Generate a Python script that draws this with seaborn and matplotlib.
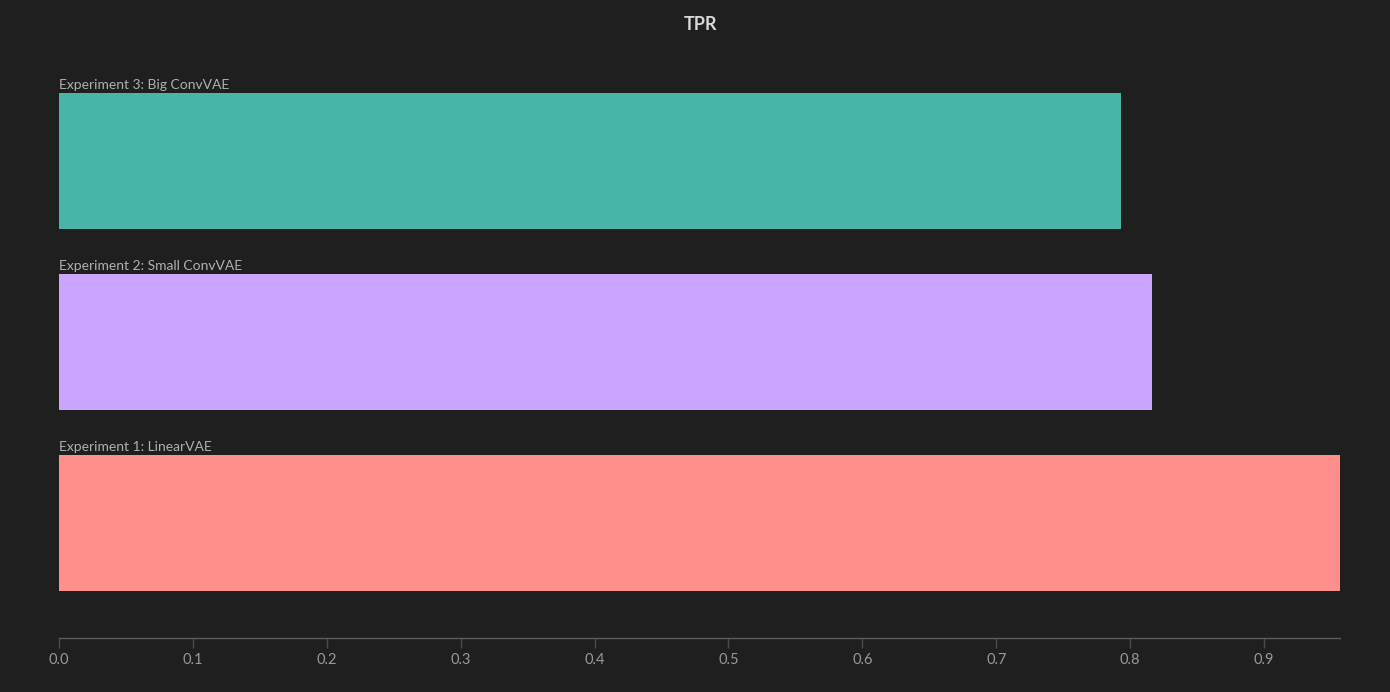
import matplotlib
matplotlib.use("Agg")
import matplotlib.pyplot as plt
import seaborn as sns
import pandas as pd

# Data
experiments = ["Experiment 3: Big ConvVAE", "Experiment 2: Small ConvVAE", "Experiment 1: LinearVAE"]
tpr_values = [0.7932, 0.8163, 0.9567]
bar_colors = ["#49b5a9", "#cba4ff", "#ff8f8b"]
x_ticks = [0.0, 0.1, 0.2, 0.3, 0.4, 0.5, 0.6, 0.7, 0.8, 0.9]
title = "TPR"

sns.set_theme(style="dark")
plt.rcParams["font.family"] = ["Lato", "DejaVu Sans"]

bg = "#1f1f1f"
fig = plt.figure(figsize=(13.9, 6.92), dpi=100, facecolor=bg)
ax = fig.add_axes([59/1390, 1-638/692, 1281/1390, 578/692])
ax.set_facecolor(bg)

df = pd.DataFrame({"experiment": experiments, "tpr": tpr_values})
sns.barplot(data=df, x="tpr", y="experiment", hue="experiment",
            palette=dict(zip(experiments, bar_colors)), orient="h",
            width=0.75, legend=False, saturation=1, ax=ax, edgecolor="none")

ax.set_xlim(0, max(tpr_values))
ax.set_ylim(2 + 115/181, -101/181)
ax.set_xticks(x_ticks)
ax.set_xticklabels([f"{t:.1f}" for t in x_ticks])
ax.set_yticks([])
ax.set_xlabel("")
ax.set_ylabel("")
ax.grid(False)
for s in ["top", "right", "left"]:
    ax.spines[s].set_visible(False)
ax.spines["bottom"].set_color("#5c5c5c")
ax.spines["bottom"].set_linewidth(1)
ax.tick_params(axis="x", bottom=True, direction="out", length=7, width=1,
               color="#4a4a4a", labelcolor="#999999", labelsize=10.5, pad=3.5)

for i, name in enumerate(experiments):
    ax.text(0, i - 0.375 - 0.012, name, ha="left", va="bottom",
            color="#b0b0b0", fontsize=10)

fig.text(700/1390, 1-25/692, title, ha="center", va="center",
         color="#d8d8d8", fontsize=13, fontweight="bold")

fig.savefig("out.png", dpi=100, facecolor=bg)
